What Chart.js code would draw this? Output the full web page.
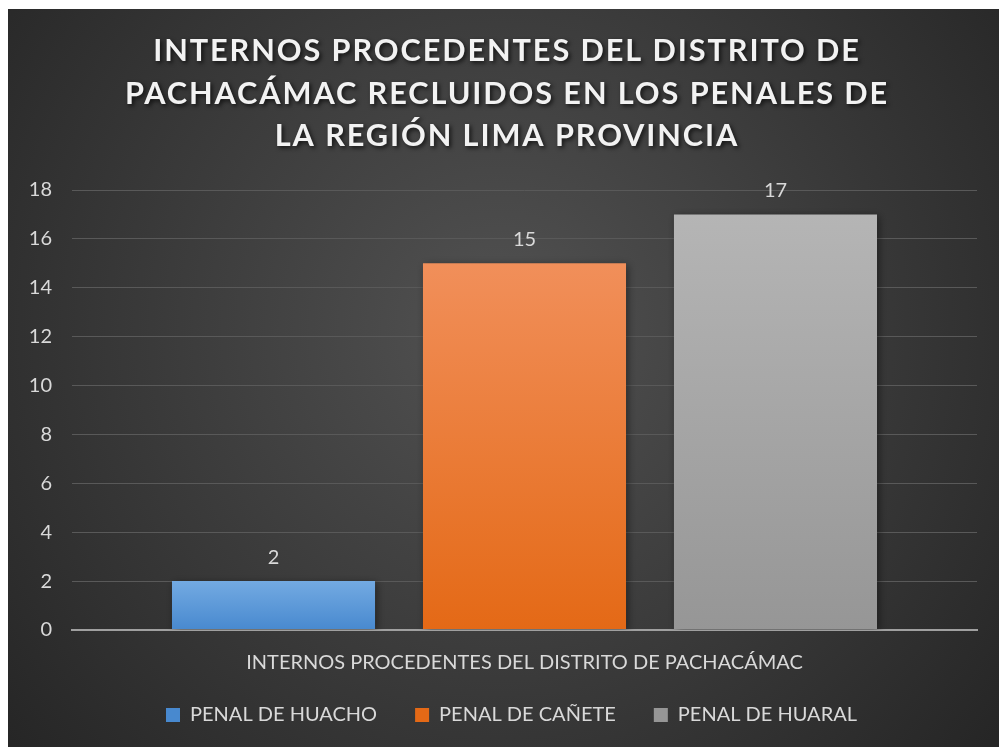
<!DOCTYPE html>
<html>
<head>
<meta charset="utf-8">
<script src="https://cdn.jsdelivr.net/npm/chart.js@4.4.1/dist/chart.umd.min.js"></script>
<style>
html,body{margin:0;padding:0;background:#fff;}
#wrap{width:999px;height:747px;position:relative;}
</style>
</head>
<body>
<div id="wrap"><canvas id="c" width="999" height="747"></canvas></div>
<script>
const titleLines = ["INTERNOS PROCEDENTES DEL DISTRITO DE", "PACHACÁMAC RECLUIDOS EN LOS PENALES DE", "LA REGIÓN LIMA PROVINCIA"];
const categories = ["INTERNOS PROCEDENTES DEL DISTRITO DE PACHACÁMAC"];
const seriesNames = ["PENAL DE HUACHO", "PENAL DE CAÑETE", "PENAL DE HUARAL"];
const huachoValues = [2];
const caneteValues = [15];
const huaralValues = [17];
const yTicks = [0, 2, 4, 6, 8, 10, 12, 14, 16, 18];

const seriesValues = [huachoValues, caneteValues, huaralValues];
const gradStops = [
  ["#73aae2", "#4889cf", "#5b9bdb"],
  ["#f18f5a", "#e46916", "#ed7d31"],
  ["#b5b5b5", "#969696", "#a5a5a5"]
];

function barGradient(idx) {
  return function(ctx) {
    const chart = ctx.chart;
    if (!chart.chartArea || ctx.dataIndex === undefined || ctx.type !== 'data') return gradStops[idx][2];
    const y = chart.scales.y;
    const v = ctx.raw;
    const top = y.getPixelForValue(v);
    const bot = y.getPixelForValue(0);
    if (!isFinite(top) || !isFinite(bot) || top === bot) return gradStops[idx][2];
    const g = chart.ctx.createLinearGradient(0, top, 0, bot);
    g.addColorStop(0, gradStops[idx][0]);
    g.addColorStop(1, gradStops[idx][1]);
    return g;
  };
}

const bgPlugin = {
  id: 'bg',
  afterLayout(chart) {
    if (chart.legend) {
      chart.legend.left += 19;
      chart.legend.right += 19;
      chart.legend.top -= 12;
      chart.legend.bottom -= 12;
    }
  },
  beforeDraw(chart) {
    const c = chart.ctx;
    c.save();
    const g = c.createRadialGradient(500, 330, 0, 500, 330, 640);
    g.addColorStop(0, '#525252');
    g.addColorStop(1, '#262626');
    c.fillStyle = g;
    c.fillRect(8, 9, 991, 738);
    c.restore();
  },
  afterDraw(chart) {
    const c = chart.ctx;
    c.save();
    c.font = 'bold 30.7px Lato';
    c.letterSpacing = '1.9px';
    c.fillStyle = '#f2f2f2';
    c.textAlign = 'center';
    c.textBaseline = 'middle';
    c.shadowColor = 'rgba(0,0,0,0.7)';
    c.shadowBlur = 4;
    c.shadowOffsetX = 2;
    c.shadowOffsetY = 2;
    const ys = [51, 94, 136];
    titleLines.forEach((t, i) => c.fillText(t, 507, ys[i]));
    c.restore();
  }
};

const shadowPlugin = {
  id: 'barShadow',
  beforeDatasetDraw(chart) {
    const c = chart.ctx;
    c.save();
    c.shadowColor = 'rgba(0,0,0,0.45)';
    c.shadowBlur = 8;
    c.shadowOffsetX = 2;
    c.shadowOffsetY = 2;
  },
  afterDatasetDraw(chart) {
    chart.ctx.restore();
  }
};

const labelPlugin = {
  id: 'valueLabels',
  afterDatasetsDraw(chart) {
    const c = chart.ctx;
    c.save();
    c.font = '20px Lato';
    c.fillStyle = '#d9d9d9';
    c.textAlign = 'center';
    c.textBaseline = 'middle';
    chart.data.datasets.forEach((ds, di) => {
      const meta = chart.getDatasetMeta(di);
      meta.data.forEach((bar, i) => {
        c.fillText(String(ds.data[i]), bar.x, bar.y - 24);
      });
    });
    c.restore();
  }
};

new Chart(document.getElementById('c'), {
  type: 'bar',
  data: {
    labels: categories,
    datasets: seriesNames.map((n, i) => ({
      label: n,
      data: seriesValues[i],
      backgroundColor: barGradient(i),
      borderWidth: 0,
      categoryPercentage: 0.832,
      barPercentage: 0.809
    }))
  },
  options: {
    responsive: false,
    animation: false,
    devicePixelRatio: 1,
    layout: { padding: { left: 8, right: 22, top: 190, bottom: 0 } },
    plugins: {
      title: { display: false },
      tooltip: { enabled: false },
      legend: {
        position: 'bottom',
        maxHeight: 72,
        labels: {
          color: '#d9d9d9',
          font: { family: 'Lato', size: 20 },
          boxWidth: 14,
          boxHeight: 14,
          padding: 38
        }
      }
    },
    scales: {
      x: {
        afterFit(scale) { scale.height = 49; },
        grid: { display: false, drawTicks: false },
        border: { display: true, color: '#a0a0a0', width: 2 },
        ticks: { color: '#d9d9d9', font: { family: 'Lato', size: 20 }, padding: 21 }
      },
      y: {
        min: 0,
        max: 18,
        afterBuildTicks(scale) { scale.ticks = yTicks.map(v => ({ value: v })); },
        afterFit(scale) { scale.width = 64; },
        grid: {
          drawTicks: false,
          color: ctx => ctx.tick && ctx.tick.value === 0 ? '#a0a0a0' : '#595959',
          lineWidth: ctx => ctx.tick && ctx.tick.value === 0 ? 2 : 1
        },
        border: { display: false },
        ticks: { color: '#d9d9d9', font: { family: 'Lato', size: 20 }, padding: 20 }
      }
    }
  },
  plugins: [bgPlugin, shadowPlugin, labelPlugin]
});
</script>
</body>
</html>
